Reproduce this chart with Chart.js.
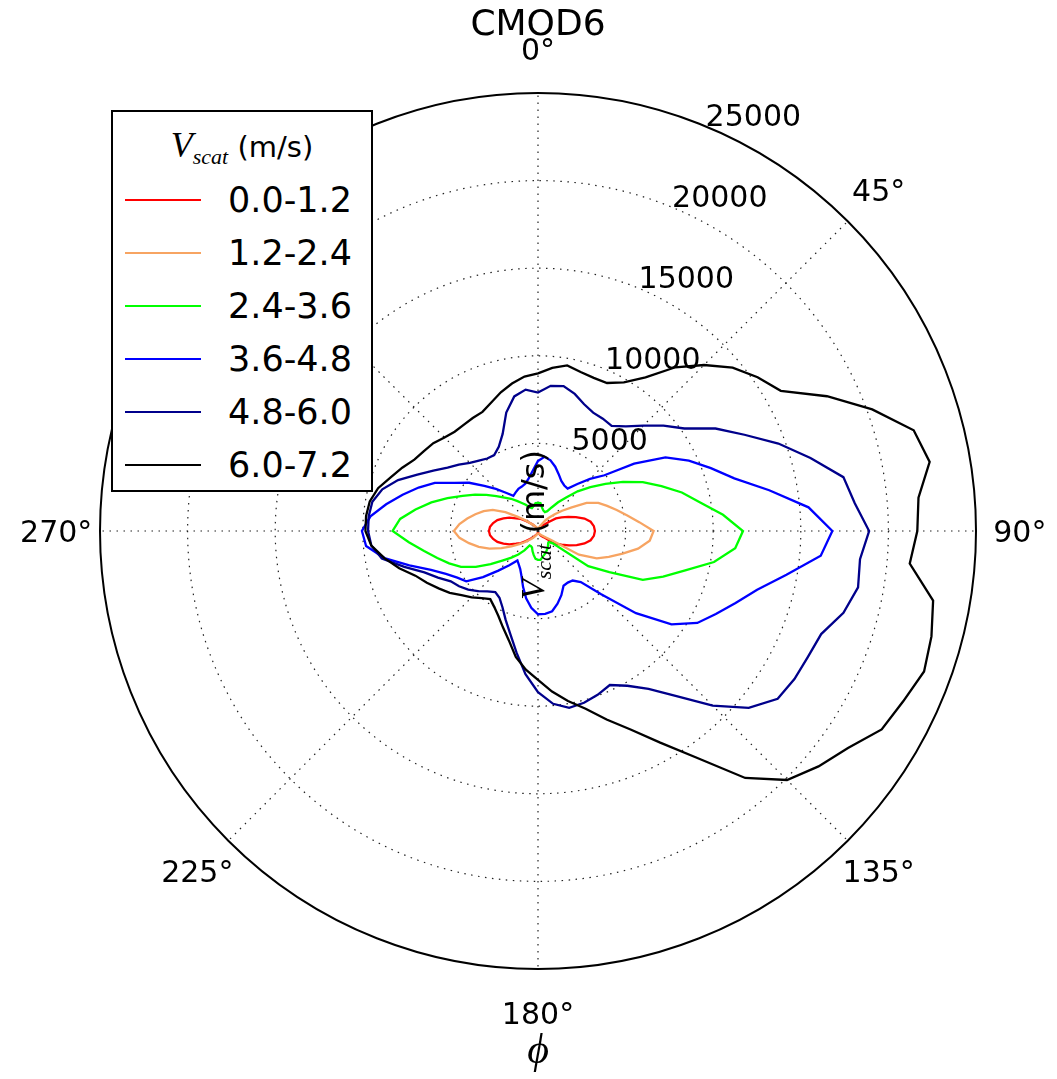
<!DOCTYPE html>
<html>
<head>
<meta charset="utf-8">
<title>CMOD6</title>
<script src="https://cdn.jsdelivr.net/npm/chart.js@4.4.0/dist/chart.umd.min.js"></script>
<style>
    html, body { margin: 0; padding: 0; background: #fff; }
    #wrap { position: relative; width: 1057px; height: 1079px; }
    #polar { display: block; }
    #legend {
        position: absolute; left: 111px; top: 110px;
        width: 258px; height: 378px;
        border: 2px solid #000; background: #fff;
        font-family: "DejaVu Sans", sans-serif; color: #000;
    }
    #legend .ltitle {
        position: absolute; left: 0; right: 0; top: 13px;
        text-align: center; font-size: 29px; line-height: 40px; white-space: nowrap;
    }
    #legend .math { font-family: "Liberation Serif", serif; font-style: italic; }
    #legend .math.big { font-size: 36px; }
    #legend sub.math { font-size: 22px; vertical-align: -7px; line-height: 0; }
    #legend .row { position: absolute; left: 0; right: 0; height: 40px; }
    #legend .swatch { position: absolute; left: 12px; width: 76px; height: 2px; top: 19px; }
    #legend .label {
        position: absolute; left: 115px; top: 0; font-size: 35px; line-height: 40px; white-space: nowrap;
    }
</style>
</head>
<body>
<div id="wrap">
    <canvas id="polar" width="1057" height="1079"></canvas>
    <div id="legend">
        <div class="ltitle"><span class="math big">V</span><sub class="math">scat</sub> (m/s)</div>
    </div>
</div>
<script>
const titleText = "CMOD6";

// wind direction phi, degrees (0 at top, clockwise)
const angles = [0, 5, 10, 15, 20, 25, 30, 35, 40, 45, 50, 55, 60, 65, 70, 75, 80, 85,
    90, 95, 100, 105, 110, 115, 120, 125, 130, 135, 140, 145, 150, 155, 160, 165, 170, 175,
    180, 185, 190, 195, 200, 205, 210, 215, 220, 225, 230, 235, 240, 245, 250, 255, 260, 265,
    270, 275, 280, 285, 290, 295, 300, 305, 310, 315, 320, 325, 330, 335, 340, 345, 350, 355];

const angleTicks = [0, 45, 90, 135, 180, 225, 270, 315];
const radialTicks = [5000, 10000, 15000, 20000, 25000];
const radialMax = 25000;

const seriesLabels = ["0.0-1.2", "1.2-2.4", "2.4-3.6", "3.6-4.8", "4.8-6.0", "6.0-7.2"];
const seriesColors = ["#ff0000", "#f7a462", "#00ff00", "#0000ff", "#00008b", "#000000"];

const counts0 = [120, 120, 130, 150, 180, 220, 280, 350, 450, 550, 800, 1250, 1550, 1900, 2300, 2750, 3050, 3200,
    3250, 3200, 3050, 2750, 2350, 1950, 1550, 1250, 850, 550, 450, 350, 280, 220, 180, 150, 130, 120,
    120, 120, 130, 150, 180, 220, 280, 380, 500, 650, 900, 1200, 1450, 1800, 2100, 2400, 2600, 2750,
    2800, 2750, 2600, 2400, 2100, 1800, 1450, 1200, 900, 650, 500, 380, 280, 220, 180, 150, 130, 120];

const counts1 = [150, 150, 170, 200, 250, 350, 500, 750, 1000, 1350, 1800, 2350, 3200, 3800, 4200, 4650, 5150, 5800,
    6600, 6400, 5800, 5000, 4300, 3700, 2700, 850, 550, 400, 320, 260, 220, 190, 170, 160, 150, 150,
    150, 150, 160, 180, 220, 280, 350, 450, 600, 750, 1000, 1300, 1750, 2300, 2950, 3500, 4000, 4500,
    4800, 4500, 4100, 3700, 3300, 2850, 2150, 1400, 950, 650, 480, 380, 300, 250, 210, 180, 160, 150];

const counts2 = [1600, 1600, 1350, 1200, 1150, 1250, 1550, 2000, 2500, 3200, 3900, 4700, 5600, 6600, 7500, 8500, 9400, 10600,
    11700, 11300, 10200, 8700, 7600, 6600, 4700, 3500, 1100, 900, 900, 1000, 1100, 1200, 1300, 1400, 1500, 1650,
    1650, 1600, 1400, 1200, 1000, 950, 950, 1350, 1750, 2150, 2600, 3300, 4100, 4850, 5400, 5950, 6600, 7400,
    8300, 7900, 7100, 6300, 5500, 4750, 4150, 3600, 3100, 2700, 2400, 2100, 1850, 1650, 1450, 1350, 1450, 1600];

const counts3 = [4000, 4250, 4100, 3800, 3450, 3150, 3000, 2950, 3500, 4200, 4950, 6700, 8400, 9500, 10500, 11600, 13400, 15500,
    16800, 16200, 14400, 12950, 12000, 11200, 10500, 9300, 7300, 5100, 3800, 3450, 3400, 3450, 3900, 4300, 4650, 4750,
    4750, 4400, 3900, 3300, 2750, 2400, 2200, 2050, 2550, 3200, 4100, 5000, 5320, 5800, 6500, 7600, 8900, 9850,
    10050, 9600, 8800, 8000, 7250, 6500, 5500, 4800, 4000, 3400, 2850, 2450, 2550, 2650, 2700, 2800, 3050, 3450];

const counts4 = [7900, 8320, 8400, 8100, 7700, 7450, 7400, 7330, 7800, 8500, 9350, 10200, 11700, 13000, 14600, 16100, 17700, 18150,
    18900, 18450, 18550, 18050, 17200, 17000, 16900, 16700, 15700, 14100, 12300, 11000, 10200, 9700, 9950, 10150, 10250, 9900,
    9200, 8200, 7050, 6100, 5400, 4800, 4400, 4250, 4500, 4850, 5200, 5500, 5750, 6300, 6900, 7900, 9050, 9550,
    9700, 9700, 9600, 9200, 8500, 7600, 6900, 6300, 5900, 5500, 5250, 5050, 5000, 5300, 5900, 7000, 7800, 8100];

const counts5 = [9000, 9350, 9600, 9400, 9300, 9320, 9800, 10700, 12200, 13400, 14500, 15300, 16000, 18200, 20300, 22200, 22700, 21800,
    21650, 21300, 22900, 23250, 23450, 23000, 22650, 21600, 20900, 20100, 18400, 15800, 13950, 12500, 11450, 10500, 9850, 9200,
    8500, 7950, 7300, 6450, 5850, 5350, 5000, 4750, 5000, 5350, 5700, 6150, 6550, 7000, 7450, 8200, 8900, 9550,
    9850, 9850, 9750, 9450, 8950, 8550, 8150, 7950, 7800, 7550, 7400, 7400, 7450, 7500, 7800, 8200, 8550, 8850];

const seriesData = [counts0, counts1, counts2, counts3, counts4, counts5];

document.addEventListener("DOMContentLoaded", function () {
    BuildLegend();
    RenderChart();
});

function BuildLegend() {
    const legend = document.getElementById("legend");
    seriesLabels.forEach((label, i) => {
        const row = document.createElement("div");
        row.className = "row";
        row.style.top = (68 + i * 53) + "px";
        const swatch = document.createElement("span");
        swatch.className = "swatch";
        swatch.style.background = seriesColors[i];
        const text = document.createElement("span");
        text.className = "label";
        text.textContent = label;
        row.appendChild(swatch);
        row.appendChild(text);
        legend.appendChild(row);
    });
}

// title, angle labels, radius labels and axis labels, matplotlib style
const decorations = {
    id: "decorations",
    afterDraw(chart) {
        const ctx = chart.ctx;
        const scale = chart.scales.r;
        const cx = scale.xCenter;
        const cy = scale.yCenter;
        const R = scale.drawingArea;

        ctx.save();
        ctx.fillStyle = "#000";

        ctx.font = '36px "DejaVu Sans"';
        ctx.textAlign = "center";
        ctx.textBaseline = "middle";
        ctx.fillText(titleText, cx, 26);

        ctx.font = '30px "DejaVu Sans"';
        angleTicks.forEach(a => {
            const t = a * Math.PI / 180;
            ctx.fillText(a + "°", cx + 1.1 * R * Math.sin(t), cy - 1.1 * R * Math.cos(t) + 3);
        });

        ctx.textAlign = "left";
        ctx.textBaseline = "alphabetic";
        const rt = 22.5 * Math.PI / 180;
        radialTicks.forEach(v => {
            const d = scale.getDistanceFromCenterForValue(v);
            ctx.fillText(String(v), cx + d * Math.sin(rt), cy - d * Math.cos(rt));
        });

        // phi (x label)
        ctx.textAlign = "center";
        ctx.textBaseline = "middle";
        ctx.font = 'italic 42px "Liberation Serif"';
        ctx.fillText("\u03d5", cx, 1052);

        // V_scat (m/s) (y label), rotated through the centre
        ctx.translate(cx + 6, cy - 6);
        ctx.rotate(-Math.PI / 2);
        ctx.textAlign = "left";
        ctx.textBaseline = "alphabetic";
        ctx.font = 'italic 34px "Liberation Serif"';
        const wV = ctx.measureText("V").width;
        ctx.font = 'italic 22px "Liberation Serif"';
        const wS = ctx.measureText("scat").width;
        ctx.font = '32px "DejaVu Sans"';
        const wU = ctx.measureText(" (m/s)").width;
        let x = -(wV + wS + wU) / 2;
        ctx.font = 'italic 34px "Liberation Serif"';
        ctx.fillText("V", x, 0);
        x += wV;
        ctx.font = 'italic 22px "Liberation Serif"';
        ctx.fillText("scat", x, 7);
        x += wS;
        ctx.font = '32px "DejaVu Sans"';
        ctx.fillText(" (m/s)", x, 0);

        ctx.restore();
    }
};

function RenderChart() {
    const ctx = document.getElementById("polar").getContext("2d");

    const datasets = seriesData.map((values, i) => ({
        label: seriesLabels[i],
        data: values,
        borderColor: seriesColors[i],
        backgroundColor: seriesColors[i],
        borderWidth: 2.3,
        pointRadius: 0,
        pointHoverRadius: 0,
        fill: false,
        tension: 0,
        order: seriesData.length - i
    }));

    new Chart(ctx, {
        type: "radar",
        data: {
            labels: angles,
            datasets: datasets
        },
        options: {
            responsive: false,
            animation: false,
            layout: {
                padding: { left: 100, right: 81, top: 93, bottom: 110 }
            },
            plugins: {
                legend: { display: false },
                tooltip: { enabled: false },
                title: { display: false }
            },
            scales: {
                r: {
                    min: 0,
                    max: radialMax,
                    startAngle: 0,
                    ticks: {
                        display: false,
                        stepSize: 5000
                    },
                    pointLabels: { display: false },
                    grid: {
                        circular: true,
                        color: c => c.tick && c.tick.value === radialMax ? "#000" : "#222",
                        lineWidth: c => c.tick && c.tick.value === radialMax ? 2 : 1.2
                    },
                    border: {
                        dash: c => c.tick && c.tick.value === radialMax ? [] : [1.5, 5.5]
                    },
                    angleLines: {
                        display: true,
                        color: "#222",
                        lineWidth: c => angleTicks.includes(angles[c.index]) ? 1.2 : 0,
                        borderDash: [1.5, 5.5]
                    }
                }
            }
        },
        plugins: [decorations]
    });
}
</script>
</body>
</html>
